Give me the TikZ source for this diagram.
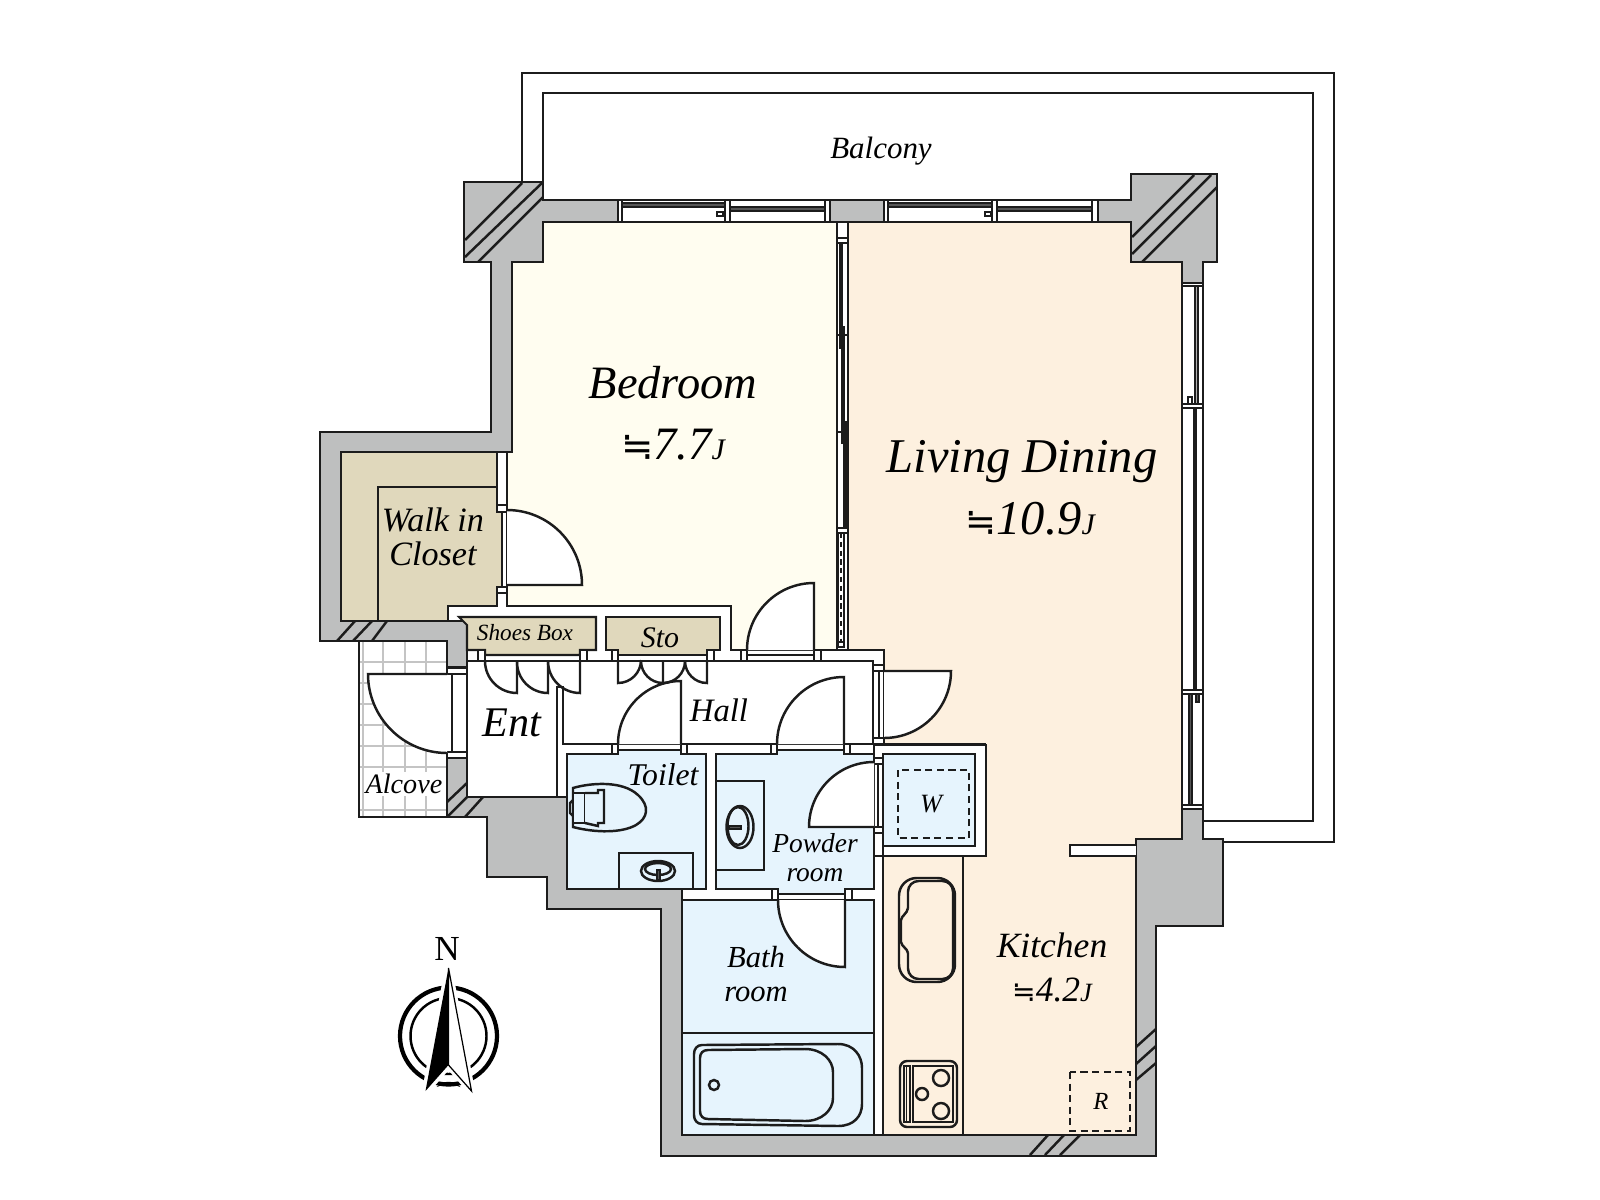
\documentclass[tikz,border=0pt]{standalone}
\usepackage{fontspec}
\setmainfont{Liberation Serif}
\newfontfamily\nearlyfont{DejaVu Sans}
\usepackage{xcolor}
\usepackage{tikz}
\definecolor{wallgray}{HTML}{BEBFBF}
\definecolor{inkline}{HTML}{1C1C1C}
\definecolor{bedcol}{HTML}{FFFDF0}
\definecolor{livecol}{HTML}{FDF0DF}
\definecolor{closetcol}{HTML}{E0D8BC}
\definecolor{wetcol}{HTML}{E6F4FD}
\definecolor{tilecol}{HTML}{C4C4C4}
\newcommand{\nearly}[1]{{\nearlyfont\fontsize{#1}{#1}\selectfont ≒}}
\newcommand{\jsmall}[1]{{\fontsize{#1}{#1}\selectfont J}}
\newcommand{\lbl}[2]{\fontsize{#1}{#2}\selectfont\itshape}
\tikzset{
	wall/.style={draw=inkline,fill=wallgray},
	room/.style={draw=inkline,fill=#1},
	frame/.style={draw=inkline,fill=white},
	doorleaf/.style={draw=inkline,fill=white,line width=0.7pt},
	hatch/.style={draw=inkline,line width=0.7pt},
	rail/.style={draw=inkline,fill=inkline!75},
	thinrail/.style={draw=inkline,fill=inkline!35},
	fixture/.style={draw=inkline,line width=0.7pt},
	dashbox/.style={draw=inkline,dashed,dash pattern=on 2pt off 1.3pt,line width=0.8pt},
}
\begin{document}
\begin{tikzpicture}[x=0.01cm,y=-0.01cm,line width=0.58pt,line join=miter]
	\useasboundingbox (0,0) rectangle (1600,1200);
	% balcony
	\draw[draw=inkline] (522,182) -- (522,73) -- (1334,73) -- (1334,842) -- (1223,842);
	\draw[draw=inkline] (543,182) -- (543,93) -- (1313,93) -- (1313,821) -- (1203,821);
	% alcove tiles
	\foreach \x in {363,383,405,426} \draw[tilecol] (\x,641) -- (\x,817);
	\foreach \y in {662,683,704,725,746,767,810} \draw[tilecol] (359,\y) -- (447,\y);
	\draw[draw=inkline] (359,641) -- (359,817) -- (447,817);
	% rooms
	\draw[room=bedcol] (543,222) -- (837,222) -- (837,650) -- (731,650) -- (731,606) -- (507,606) -- (507,452) -- (512,452) -- (512,262) -- (543,262) -- cycle;
	\draw[room=livecol] (848,222) -- (1131,222) -- (1131,262) -- (1182,262) -- (1182,839) -- (1136,839) -- (1136,1135) -- (963,1135) -- (963,856) -- (986,856) -- (986,745) -- (884,745) -- (884,650) -- (848,650) -- cycle;
	\draw[room=livecol] (883,856) rectangle (963,1135);
	\draw[room=closetcol] (341,452) -- (497,452) -- (497,512) -- (502,512) -- (502,587) -- (497,587) -- (497,606) -- (448,606) -- (448,621) -- (341,621) -- cycle;
	\draw[draw=inkline] (378,621) -- (378,487) -- (497,487);
	\draw[frame] (874,745) rectangle (986,856);
	\draw[room=wetcol] (883,754) rectangle (975,846);
	\draw[room=wetcol] (567,754) -- (612,754) -- (612,750) -- (687,750) -- (687,754) -- (706,754) -- (706,889) -- (567,889) -- cycle;
	\draw[room=wetcol] (716,754) -- (771,754) -- (771,750) -- (850,750) -- (850,754) -- (874,754) -- (874,889) -- (852,889) -- (852,894) -- (772,894) -- (772,889) -- (716,889) -- cycle;
	\draw[room=wetcol] (682,900) rectangle (874,1135);
	\draw[draw=inkline] (682,1033) -- (874,1033);
	\draw[draw=inkline] (883,856) -- (883,846);
	% hall and entrance
	\draw[draw=inkline] (467,661) -- (873,661) -- (873,745);
	\draw[draw=inkline] (879,671) -- (879,738);
	\draw[draw=inkline] (557,797) -- (557,687) -- (563,687) -- (563,744) -- (986,744);
	\draw[draw=inkline] (452,674) -- (452,752);
	\draw[draw=inkline] (747,655) -- (814,655);
	\draw[draw=inkline] (467,667) -- (467,758);
	\draw[draw=inkline] (878,764) -- (878,827);
	\draw[draw=inkline] (778,894) -- (845,894);
	% walls
	\draw[wall] (464,182) -- (543,182) -- (543,200) -- (618,200) -- (618,222) -- (543,222) -- (543,262) -- (512,262) -- (512,452) -- (341,452) -- (341,621) -- (467,621) -- (467,667) -- (447,667) -- (447,641) -- (320,641) -- (320,432) -- (491,432) -- (491,262) -- (464,262) -- cycle;
	\draw[wall] (830,200) rectangle (884,222);
	\draw[wall] (1131,174) -- (1217,174) -- (1217,262) -- (1203,262) -- (1203,283) -- (1182,283) -- (1182,262) -- (1131,262) -- (1131,222) -- (1098,222) -- (1098,200) -- (1131,200) -- cycle;
	\draw[wall] (447,758) -- (467,758) -- (467,797) -- (567,797) -- (567,889) -- (682,889) -- (682,1135) -- (1136,1135) -- (1136,839) -- (1182,839) -- (1182,809) -- (1203,809) -- (1203,839) -- (1223,839) -- (1223,926) -- (1156,926) -- (1156,1156) -- (661,1156) -- (661,909) -- (547,909) -- (547,877) -- (487,877) -- (487,817) -- (447,817) -- cycle;
	% hatching
	\draw[hatch] (465,240) -- (522,183) (465,257) -- (542,183) (478,262) -- (543,197);
	\draw[hatch] (1132,237) -- (1194,175) (1132,254) -- (1211,175) (1142,262) -- (1217,187);
	\draw[hatch] (337,641) -- (355,621) (353,641) -- (372,621) (372,641) -- (387,621);
	\draw[hatch] (447,802) -- (467,783) (447,817) -- (467,797) (465,817) -- (483,797);
	\draw[hatch] (1136,1047) -- (1156,1029) (1136,1064) -- (1156,1046) (1136,1080) -- (1156,1063);
	\draw[hatch] (1030,1155) -- (1048,1135) (1045,1155) -- (1064,1135) (1060,1155) -- (1080,1135);
	% north windows
	\draw[frame] (618,200) rectangle (830,222);
	\draw[frame] (618,200) rectangle (622,222);
	\draw[frame] (725,200) rectangle (730,222);
	\draw[frame] (825,200) rectangle (830,222);
	\draw[rail] (622,203) rectangle (725,207);
	\draw[rail] (730,207) rectangle (825,211);
	\draw[draw=inkline] (717,212) rectangle (723,216);
	\draw[frame] (884,200) rectangle (1098,222);
	\draw[frame] (884,200) rectangle (888,222);
	\draw[frame] (992,200) rectangle (997,222);
	\draw[frame] (1092,200) rectangle (1098,222);
	\draw[rail] (888,203) rectangle (992,207);
	\draw[rail] (997,207) rectangle (1092,211);
	\draw[draw=inkline] (985,212) rectangle (991,216);
	% east windows
	\draw[frame] (1182,283) rectangle (1203,809);
	\draw[frame] (1182,283) rectangle (1203,286);
	\draw[frame] (1182,404) rectangle (1203,408);
	\draw[frame] (1182,690) rectangle (1203,694);
	\draw[frame] (1182,805) rectangle (1203,809);
	\draw[thinrail] (1195,286) rectangle (1198,404);
	\draw[thinrail] (1194,408) rectangle (1196,690);
	\draw[rail] (1189,694) rectangle (1192,805);
	\draw[draw=inkline] (1188,397) rectangle (1192,404);
	\draw[rail] (1196,694) rectangle (1199,702);
	% partition between bedroom and living
	\draw[frame] (837,222) rectangle (848,650);
	\draw[frame] (837,238) rectangle (848,243);
	\draw[frame] (837,528) rectangle (848,533);
	\draw[frame] (838,642) rectangle (844,647);
	\draw[draw=inkline] (837,335) -- (848,335) (837,432) -- (848,432);
	\draw[rail] (840,243) rectangle (842,348);
	\draw[thinrail] (842.5,327) rectangle (843.5,443);
	\draw[rail] (844,422) rectangle (846,528);
	\draw[draw=inkline] (838,533) -- (838,642) (844,533) -- (844,642);
	\draw[draw=inkline,dashed,dash pattern=on 1.5pt off 1pt,line width=0.8pt] (841,533) -- (841,642);
	% kitchen stub
	\draw[frame] (1136,845) -- (1070,845) -- (1070,856) -- (1136,856);
	% closets
	\draw[room=closetcol] (459,617) -- (596,617) -- (596,650) -- (580,650) -- (580,655) -- (485,655) -- (485,650) -- (467,650) -- (467,625) -- cycle;
	\draw[room=closetcol] (606,617) -- (720,617) -- (720,650) -- (707,650) -- (707,655) -- (618,655) -- (618,650) -- (606,650) -- cycle;
	% door frames
	\foreach \x/\xx in {478/485,580/587,612/618,707/714,741/747,814/821} \draw[frame] (\x,650) rectangle (\xx,661);
	\foreach \x/\xx in {612/618,681/687,771/777,844/850} \draw[frame] (\x,744) rectangle (\xx,754);
	\foreach \x/\xx in {772/778,845/852} \draw[frame] (\x,889) rectangle (\xx,900);
	\foreach \y/\yy in {505/512,587/593} \draw[frame] (497,\y) rectangle (507,\yy);
	\foreach \y/\yy in {668/674,752/758} \draw[frame] (447,\y) rectangle (467,\yy);
	\foreach \y/\yy in {665/671,738/744} \draw[frame] (873,\y) rectangle (884,\yy);
	\foreach \y/\yy in {758/764,827/833} \draw[frame] (874,\y) rectangle (883,\yy);
	% doors
	\draw[doorleaf] (507,585) -- (582,585) arc (0:-90:75);
	\draw[doorleaf] (814,650) -- (814,583) arc (-90:-180:67);
	\draw[doorleaf] (681,744) -- (681,681) arc (-90:-180:63);
	\draw[doorleaf] (844,744) -- (844,677) arc (-90:-180:67);
	\draw[doorleaf] (884,671) -- (951,671) arc (0:90:67);
	\draw[doorleaf] (874,827) -- (809,827) arc (180:270:65);
	\draw[doorleaf] (845,900) -- (845,967) arc (90:180:67);
	\draw[doorleaf] (447,674) -- (368,674) arc (180:90:79);
	% shoes box and storage leaves
	\draw[fixture] (517,661) -- (517,693) arc (90:180:32);
	\draw[fixture] (548,661) -- (548,693) arc (90:180:31);
	\draw[fixture] (580,661) -- (580,693) arc (90:180:32);
	\draw[fixture] (618,661) -- (618,683) arc (90:0:23);
	\draw[fixture] (663,661) -- (663,683) arc (90:180:22);
	\draw[fixture] (663,683) arc (90:0:22);
	\draw[fixture] (707,661) -- (707,683) arc (90:180:22);
	% toilet
	\draw[fixture] (573,788) .. controls (590,783) and (622,780) .. (638,795) .. controls (650,806) and (648,818) .. (636,825) .. controls (622,833) and (596,833) .. (573,827) -- cycle;
	\draw[fixture,fill=wetcol] (573,793) rectangle (585,823);
	\draw[fixture,fill=wetcol] (585,793) -- (598,793) -- (598,790) -- (604,790) -- (604,823) -- (598,823) -- (598,826) -- (585,823);
	\draw[fixture] (573,800) -- (570,803) -- (570,813) -- (573,816);
	% basins
	\draw[draw=inkline] (619,889) -- (619,853) -- (693,853) -- (693,889);
	\draw[fixture] (658,871) ellipse (17 and 10);
	\draw[fixture] (658,869) ellipse (13 and 6);
	\draw[rail] (657,870) rectangle (660,880);
	\draw[draw=inkline] (716,781) -- (764,781) -- (764,870) -- (716,870);
	\draw[fixture] (740,827) ellipse (13.5 and 21);
	\draw[fixture] (738,826) ellipse (10.5 and 19);
	\draw[rail] (729,826) rectangle (741,829);
	% bath tub
	\draw[fixture] (702,1045) -- (838,1044) .. controls (854,1044) and (862,1056) .. (862,1068) -- (862,1104) .. controls (862,1116) and (854,1126) .. (838,1126) -- (702,1124) .. controls (697,1124) and (694,1120) .. (694,1115) -- (694,1054) .. controls (694,1049) and (697,1045) .. (702,1045) -- cycle;
	\draw[fixture] (708,1050) -- (805,1049) .. controls (822,1049) and (833,1060) .. (833,1072) -- (833,1098) .. controls (833,1110) and (822,1121) .. (805,1121) -- (708,1119) .. controls (703,1119) and (700,1116) .. (700,1111) -- (700,1058) .. controls (700,1053) and (703,1050) .. (708,1050) -- cycle;
	\draw[fixture] (714,1085) circle (5);
	% sink
	\draw[fixture,rounded corners=5pt] (899,878) rectangle (955,982);
	\draw[fixture,rounded corners=3pt] (908,908) -- (908,881) -- (953,881) -- (953,979) -- (908,979) -- (908,953);
	\draw[fixture] (908,908) .. controls (907,914) and (902,915) .. (901,920) -- (901,942) .. controls (902,947) and (907,948) .. (908,953);
	% stove
	\draw[fixture,rounded corners=2pt] (900,1061) rectangle (957,1127);
	\draw[fixture] (913,1066) rectangle (953,1122);
	\draw[step=3.5,draw=inkline,line width=0.3pt] (904,1066) grid (910,1122);
	\draw[draw=inkline] (904,1066) rectangle (910,1122);
	\draw[fixture] (941,1078) circle (8);
	\draw[fixture] (922,1094) circle (6);
	\draw[fixture] (941,1111) circle (8);
	% dashed boxes
	\draw[dashbox] (898,770) rectangle (969,838);
	\draw[dashbox] (1070,1072) rectangle (1130,1131);
	% north mark
	\draw[draw=black,line width=1.2pt] (448.5,1036) circle (48.5);
	\draw[draw=black,line width=0.7pt] (448.5,1036) circle (38);
	\draw[white,line width=2pt] (448.5,968) -- (425.5,1091) -- (448.5,1065) -- (471.5,1091) -- cycle;
	\fill[black] (448.5,968) -- (425.5,1091) -- (448.5,1065) -- cycle;
	\draw[black,fill=white,line width=0.35pt] (448.5,968) -- (471.5,1091) -- (448.5,1065) -- cycle;
	\fill[black] (436.5,1087) .. controls (444.5,1080) and (452.5,1080) .. (460.5,1087) .. controls (452.5,1084) and (444.5,1084) .. cycle;
	\node (North) at (447,949) {\fontsize{10}{10}\selectfont N};
	% labels
	\node (Balcony) at (881,151) {\lbl{8.8}{10}Balcony};
	\node[align=center,font=\lbl{13.2}{17.5}] (Bedroom) at (673,413) {Bedroom\\\nearly{11}7.7\jsmall{8.5}};
	\node[align=center,font=\lbl{13.8}{17.6}] (Living) at (1022,488) {Living Dining\\\hspace*{0.164cm}\nearly{10.5}10.9\jsmall{8.5}};
	\node[align=center,font=\lbl{10.1}{12.5}] (Kitchen) at (1052,967) {Kitchen\\\nearly{8}4.2\jsmall{7.5}};
	\node[align=center,font=\lbl{9.7}{9.7}] (Closet) at (433,537) {Walk in\\Closet};
	\node (Shoes) at (525,633) {\lbl{6.6}{8}Shoes Box};
	\node (Sto) at (660,638) {\lbl{8.5}{10}Sto};
	\node (Ent) at (512,723) {\lbl{12}{14}Ent};
	\node (Hall) at (719,710) {\lbl{9.3}{11}Hall};
	\node (Toilet) at (663,775) {\lbl{9}{11}Toilet};
	\node[fill=white,inner sep=0.5pt] (Alcove) at (404,784) {\lbl{8}{10}Alcove};
	\node[align=center,font=\lbl{7.8}{8.3}] (Powder) at (815,858) {Powder\\room};
	\node[align=center,font=\lbl{8.7}{9.5}] (Bath) at (756,974) {Bath\\room};
	\node (W) at (931,804) {\lbl{7.5}{9}W};
	\node (R) at (1101,1101) {\lbl{7}{9}R};
\end{tikzpicture}
\end{document}
